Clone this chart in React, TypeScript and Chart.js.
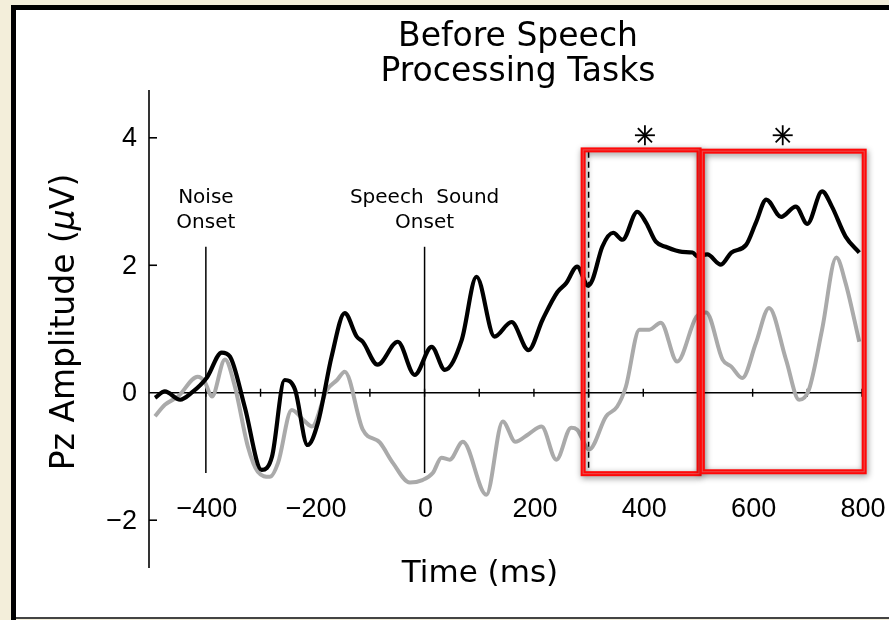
import React, { useEffect, useRef } from "react";
import { Chart, registerables } from "chart.js";

Chart.register(...registerables);

// ---- data ----
const blackTimes = [
  -493, -475, -447, -426, -398, -371, -356, -329, -298, -279, -256, -237, -214, -195, -170, -146,
  -124, -113, -86, -49, -18, 13, 37, 68, 95, 128, 159, 190, 216, 243, 259, 279, 299, 307, 325, 345,
  362, 389, 405, 423, 441, 471, 490, 499, 517, 542, 561, 588, 606, 625, 652, 679, 700, 727, 745, 770, 795,
];
const blackValues = [
  -0.08, 0.02, -0.11, 0.0, 0.24, 0.63, 0.57, -0.22, -1.21, -1.0, 0.2, 0.05, -0.82, -0.47, 0.57, 1.25,
  0.88, 0.8, 0.44, 0.8, 0.28, 0.72, 0.36, 0.83, 1.82, 0.88, 1.11, 0.67, 1.15, 1.58, 1.72, 1.98, 1.68, 1.77, 2.29, 2.51,
  2.4, 2.84, 2.67, 2.37, 2.29, 2.21, 2.2, 2.14, 2.17, 2.01, 2.2, 2.32, 2.67, 3.03, 2.76, 2.92, 2.65, 3.16, 2.92, 2.45, 2.2,
];
const grayTimes = [
  -493, -475, -451, -415, -402, -389, -365, -347, -323, -305, -283, -268, -243, -219, -206, -179, -160, -146,
  -113, -82, -58, -27, -4, 15, 31, 46, 70, 113, 143, 166, 190, 214, 241, 268, 279, 301, 332, 352, 368, 393,
  411, 432, 462, 497, 515, 545, 561, 581, 606, 630, 661, 685, 703, 727, 753, 770, 795,
];
const grayValues = [
  -0.37, -0.19, -0.06, 0.25, 0.17, -0.06, 0.52, 0.1, -0.85, -1.24, -1.32, -1.1, -0.27, -0.45, -0.53, 0.04, 0.2, 0.33,
  -0.58, -0.78, -1.1, -1.41, -1.37, -1.26, -1.02, -1.05, -0.77, -1.6, -0.45, -0.77, -0.65, -0.53, -1.05, -0.55, -0.58, -0.89, -0.37, -0.22, 0.09, 0.99,
  0.99, 1.1, 0.49, 1.19, 1.26, 0.52, 0.41, 0.23, 0.78, 1.33, 0.52, -0.11, 0.05, 0.99, 2.12, 1.72, 0.8,
];

const xTickLabels = [-400, -200, 0, 200, 400, 600, 800];
const xMinorTicks = [-400, -300, -200, -100, 0, 100, 200, 300, 400, 500, 600, 700, 800];
const yTickValues = [-2, 0, 2, 4];

const onsetTimes = [-400, 0];
const onsetLabels = [
  ["Noise", "Onset"],
  ["Speech  Sound", "Onset"],
];
const onsetTop = 2.29;
const onsetBottom = -1.26;

const dashedTime = 300;
const dashedTop = 3.78;
const dashedBottom = -1.24;

const windowStarts = [290, 508];
const windowEnds = [502, 804];
const windowTops = [3.81, 3.79];
const windowBottoms = [-1.27, -1.24];

const sigTimes = [403, 655];
const sigLevel = 4.04;

const titleLines = ["Before Speech", "Processing Tasks"];
const xTitle = "Time (ms)";

const X_MIN = -504;
const X_MAX = 800;
const Y_MIN = -2.75;
const Y_MAX = 4.75;

const W = 889;
const H = 620;

const minus = (v: number) => (v < 0 ? "\u2212" + Math.abs(v) : String(v));

const decorPlugin = {
  id: "decor",
  beforeDraw(chart: any) {
    const ctx = chart.ctx as CanvasRenderingContext2D;
    ctx.save();
    ctx.fillStyle = "#F3EEDA";
    ctx.fillRect(0, 0, W, H);
    ctx.fillStyle = "#FFFFFF";
    ctx.fillRect(16, 10, W - 16, H - 12);
    ctx.fillStyle = "#000000";
    ctx.fillRect(11, 5, 5, H - 5);
    ctx.fillRect(11, 5, W - 11, 5);
    ctx.fillStyle = "#444444";
    ctx.fillRect(16, 617, W - 16, 2);
    ctx.restore();
  },
  beforeDatasetsDraw(chart: any) {
    const ctx = chart.ctx as CanvasRenderingContext2D;
    const xs = chart.scales.x;
    const ys = chart.scales.y;
    const area = chart.chartArea;
    ctx.save();
    ctx.strokeStyle = "#000";
    ctx.fillStyle = "#000";

    // y axis line
    ctx.lineWidth = 1.6;
    ctx.beginPath();
    ctx.moveTo(area.left, area.top);
    ctx.lineTo(area.left, area.bottom);
    ctx.stroke();
    // x axis line at zero
    const y0 = ys.getPixelForValue(0);
    ctx.beginPath();
    ctx.moveTo(area.left, y0);
    ctx.lineTo(area.right, y0);
    ctx.stroke();

    // y ticks
    ctx.font = '27px "Liberation Sans", Arial, sans-serif';
    ctx.textAlign = "right";
    ctx.textBaseline = "middle";
    yTickValues.forEach((v) => {
      const py = ys.getPixelForValue(v);
      if (v !== 0) {
        ctx.beginPath();
        ctx.moveTo(area.left, py);
        ctx.lineTo(area.left + 8, py);
        ctx.stroke();
      }
      ctx.fillText(minus(v), area.left - 12, py + 1);
    });

    // x ticks
    ctx.lineWidth = 1.4;
    xMinorTicks.forEach((t) => {
      const px = xs.getPixelForValue(t);
      ctx.beginPath();
      ctx.moveTo(px, y0 - 4);
      ctx.lineTo(px, y0 + 4);
      ctx.stroke();
    });
    ctx.textAlign = "center";
    xTickLabels.forEach((t) => {
      const px = xs.getPixelForValue(t);
      ctx.fillText(minus(t), px + 1, area.bottom - 58);
    });

    // title
    ctx.font = '33px "DejaVu Sans", sans-serif';
    ctx.textAlign = "center";
    titleLines.forEach((s, i) => ctx.fillText(s, 518, 37 + i * 35));

    // x title
    ctx.font = '31px "DejaVu Sans", sans-serif';
    ctx.fillText(xTitle, 480, 574);

    // y title, rotated, mu in italic
    ctx.save();
    ctx.translate(65, 322);
    ctx.rotate(-Math.PI / 2);
    const normal = '33px "DejaVu Sans", sans-serif';
    const italic = 'italic 33px "DejaVu Sans", sans-serif';
    const parts: [string, string][] = [
      ["Pz Amplitude (", normal],
      ["\u03bc", italic],
      ["V)", normal],
    ];
    let total = 0;
    parts.forEach(([s, f]) => {
      ctx.font = f;
      total += ctx.measureText(s).width;
    });
    let cx = -total / 2;
    ctx.textAlign = "left";
    parts.forEach(([s, f]) => {
      ctx.font = f;
      ctx.fillText(s, cx, 0);
      cx += ctx.measureText(s).width;
    });
    ctx.restore();

    // onset lines and labels
    ctx.lineWidth = 1.5;
    ctx.font = '20px "DejaVu Sans", sans-serif';
    ctx.textAlign = "center";
    onsetTimes.forEach((t, i) => {
      const px = xs.getPixelForValue(t);
      ctx.beginPath();
      ctx.moveTo(px, ys.getPixelForValue(onsetTop));
      ctx.lineTo(px, ys.getPixelForValue(onsetBottom));
      ctx.stroke();
      onsetLabels[i].forEach((s, j) => ctx.fillText(s, px, 198 + j * 25));
    });

    // dashed line
    ctx.setLineDash([6, 4]);
    ctx.lineWidth = 1.5;
    const dx = xs.getPixelForValue(dashedTime);
    ctx.beginPath();
    ctx.moveTo(dx, ys.getPixelForValue(dashedTop));
    ctx.lineTo(dx, ys.getPixelForValue(dashedBottom));
    ctx.stroke();
    ctx.setLineDash([]);
    ctx.restore();
  },
  afterDatasetsDraw(chart: any) {
    const ctx = chart.ctx as CanvasRenderingContext2D;
    const xs = chart.scales.x;
    const ys = chart.scales.y;
    ctx.save();
    windowStarts.forEach((s, i) => {
      const l = xs.getPixelForValue(s);
      const r = xs.getPixelForValue(windowEnds[i]);
      const t = ys.getPixelForValue(windowTops[i]);
      const b = ys.getPixelForValue(windowBottoms[i]);
      ctx.save();
      ctx.shadowColor = "rgba(0,0,0,0.45)";
      ctx.shadowBlur = 6;
      ctx.shadowOffsetX = 1;
      ctx.shadowOffsetY = 2;
      ctx.strokeStyle = "#FF0808";
      ctx.lineWidth = 5;
      ctx.strokeRect(l, t, r - l, b - t);
      ctx.restore();
      ctx.strokeStyle = "#E85050";
      ctx.lineWidth = 1;
      ctx.strokeRect(l, t, r - l, b - t);
    });
    // asterisks
    ctx.strokeStyle = "#000";
    ctx.lineWidth = 1.8;
    sigTimes.forEach((t) => {
      const px = xs.getPixelForValue(t);
      const py = ys.getPixelForValue(sigLevel);
      const r = 10;
      for (let k = 0; k < 4; k++) {
        const a = (k * Math.PI) / 4;
        ctx.beginPath();
        ctx.moveTo(px - r * Math.cos(a), py - r * Math.sin(a));
        ctx.lineTo(px + r * Math.cos(a), py + r * Math.sin(a));
        ctx.stroke();
      }
    });
    ctx.restore();
  },
};

export default function App() {
  const ref = useRef<HTMLCanvasElement | null>(null);
  useEffect(() => {
    if (!ref.current) return;
    const black = blackTimes.map((t, i) => ({ x: t, y: blackValues[i] }));
    const gray = grayTimes.map((t, i) => ({ x: t, y: grayValues[i] }));
    const chart = new Chart(ref.current, {
      type: "line",
      data: {
        datasets: [
          {
            label: "black",
            data: black,
            borderColor: "#000000",
            borderWidth: 4.2,
            pointRadius: 0,
            cubicInterpolationMode: "monotone",
            fill: false,
          },
          {
            label: "gray",
            data: gray,
            borderColor: "#AAAAAA",
            borderWidth: 4,
            pointRadius: 0,
            cubicInterpolationMode: "monotone",
            fill: false,
          },
        ],
      },
      options: {
        animation: false,
        responsive: false,
        devicePixelRatio: 1,
        layout: { padding: { left: 149, right: 27, top: 90, bottom: 52 } },
        plugins: { legend: { display: false }, tooltip: { enabled: false }, title: { display: false } },
        scales: {
          x: { type: "linear", min: X_MIN, max: X_MAX, display: false },
          y: { type: "linear", min: Y_MIN, max: Y_MAX, display: false },
        },
      },
      plugins: [decorPlugin],
    } as any);
    return () => chart.destroy();
  }, []);
  return (
    <div style={{ position: "fixed", left: 0, top: 0, width: W, height: H }}>
      <canvas ref={ref} width={W} height={H} style={{ width: W, height: H, display: "block" }} />
    </div>
  );
}
